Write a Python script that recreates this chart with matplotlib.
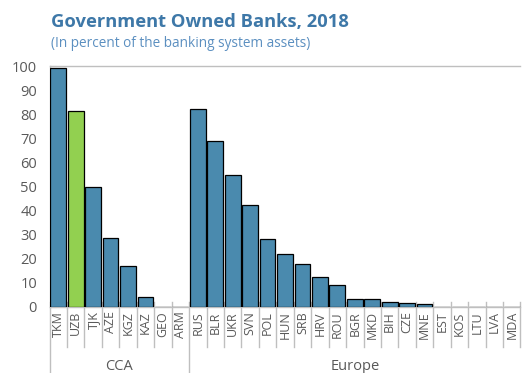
import matplotlib
matplotlib.use("Agg")
import matplotlib.pyplot as plt
import matplotlib.transforms as mtransforms

# data
cca_codes = ["TKM", "UZB", "TJK", "AZE", "KGZ", "KAZ", "GEO", "ARM"]
cca_values = [99, 81.2, 50, 28.5, 17, 4, 0, 0]
europe_codes = ["RUS", "BLR", "UKR", "SVN", "POL", "HUN", "SRB", "HRV", "ROU",
                "BGR", "MKD", "BIH", "CZE", "MNE", "EST", "KOS", "LTU", "LVA", "MDA"]
europe_values = [82, 68.8, 54.7, 42.3, 28.2, 21.8, 17.8, 12.4, 9.3,
                 3.4, 3.2, 2.1, 1.8, 1.2, 0, 0, 0, 0, 0]
groups = ["CCA", "Europe"]
highlight = "UZB"

BLUE = "#4A8AAE"
GREEN = "#92D050"
GRAY = "#595959"
LINE = "#BFBFBF"

plt.rcParams["font.family"] = ["Open Sans", "DejaVu Sans"]

codes = cca_codes + europe_codes
values = cca_values + europe_values
colors = [GREEN if c == highlight else BLUE for c in codes]
x = list(range(len(codes)))

fig = plt.figure(figsize=(5.23, 3.73), dpi=100)
ax = fig.add_axes([49.5 / 523, 66 / 373, (520.5 - 49.5) / 523, (307 - 66) / 373])

ax.bar(x, values, width=0.9, color=colors, edgecolor="black", linewidth=0.9, zorder=3)

ax.set_xlim(-0.5, len(codes) - 0.5)
ax.set_ylim(0, 100)
ax.set_yticks(range(0, 101, 10))
ax.tick_params(axis="y", direction="in", length=4, color=LINE, labelcolor=GRAY,
               labelsize=10.5, pad=9)
ax.set_xticks(x)
ax.set_xticklabels(codes, rotation=90, fontsize=9, color=GRAY)
ax.tick_params(axis="x", length=0, pad=3)

for side in ["left", "top", "bottom"]:
    ax.spines[side].set_color(LINE)
    ax.spines[side].set_linewidth(1.0)
ax.spines["right"].set_visible(False)

# category separators below the axis
trans = mtransforms.blended_transform_factory(ax.transData, ax.transAxes)
n_cca = len(cca_codes)
for b in range(len(codes) + 1):
    pos = b - 0.5
    if b == 0 or b == n_cca:
        bottom = -66 / 241
    else:
        bottom = -40 / 241
    ax.plot([pos, pos], [0.02, bottom], color=LINE, lw=1.0, transform=trans,
            clip_on=False, zorder=1)

# group labels
ax.text((n_cca - 1) / 2, -59 / 241, groups[0], transform=trans, ha="center",
        va="center", fontsize=10.5, color=GRAY)
ax.text(n_cca + (len(europe_codes) - 1) / 2, -59 / 241, groups[1], transform=trans,
        ha="center", va="center", fontsize=10.5, color=GRAY)

fig.text(51 / 523, 1 - 27 / 373, "Government Owned Banks, 2018", fontsize=13.2,
         fontweight="bold", color="#3E78A8", ha="left", va="baseline")
fig.text(51 / 523, 1 - 47 / 373, "(In percent of the banking system assets)",
         fontsize=9.8, color="#5B8FC0", ha="left", va="baseline")

fig.savefig("out.png", dpi=100)
